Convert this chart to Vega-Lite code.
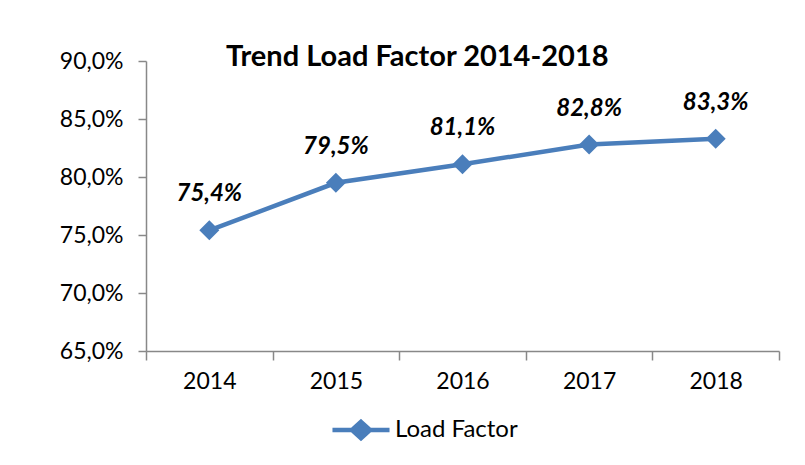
{
  "$schema": "https://vega.github.io/schema/vega-lite/v6.json",
  "width": 633,
  "height": 290,
  "autosize": "none",
  "padding": {"left": 146, "top": 61, "right": 26, "bottom": 114},
  "background": "white",
  "config": {
    "font": "Lato",
    "view": {"stroke": null},
    "locale": {
      "number": {"decimal": ",", "thousands": ".", "grouping": [3], "currency": ["", " €"]}
    }
  },
  "title": {
    "text": "Trend Load Factor 2014-2018",
    "font": "Lato",
    "fontSize": 29,
    "fontWeight": "bold",
    "color": "black",
    "anchor": "start",
    "frame": "group",
    "dx": 80,
    "baseline": "alphabetic",
    "offset": -45
  },
  "data": {
    "values": [
      {"year": "2014", "lf": 0.754, "series": "Load Factor"},
      {"year": "2015", "lf": 0.795, "series": "Load Factor"},
      {"year": "2016", "lf": 0.811, "series": "Load Factor"},
      {"year": "2017", "lf": 0.828, "series": "Load Factor"},
      {"year": "2018", "lf": 0.833, "series": "Load Factor"}
    ]
  },
  "encoding": {
    "x": {
      "field": "year",
      "type": "ordinal",
      "bandPosition": 0.5,
      "scale": {"type": "band", "paddingInner": 0, "paddingOuter": 0},
      "axis": {
        "title": null,
        "labelAngle": 0,
        "labelFont": "Lato",
        "labelFontSize": 23,
        "labelColor": "black",
        "labelPadding": 10,
        "tickBand": "extent",
        "tickSize": 9,
        "tickColor": "#888888",
        "domainColor": "#888888",
        "domainWidth": 1.5,
        "tickWidth": 1.5
      }
    },
    "y": {
      "field": "lf",
      "type": "quantitative",
      "scale": {"domain": [0.65, 0.9], "nice": false, "zero": false},
      "axis": {
        "title": null,
        "values": [0.65, 0.7, 0.75, 0.8, 0.85, 0.9],
        "format": ".1%",
        "grid": false,
        "labelFont": "Lato",
        "labelFontSize": 23,
        "labelColor": "black",
        "labelPadding": 15,
        "tickSize": 8,
        "tickColor": "#888888",
        "domainColor": "#888888",
        "domainWidth": 1.5,
        "tickWidth": 1.5
      }
    }
  },
  "layer": [
    {
      "mark": {"type": "line", "strokeWidth": 4.5},
      "encoding": {
        "color": {
          "field": "series",
          "type": "nominal",
          "scale": {"range": ["#4A7EBB"]},
          "legend": {
            "title": null,
            "orient": "none",
            "legendX": 203,
            "legendY": 357,
            "symbolType": "M-3.17,0H3.17M0,-0.9L1.0,0L0,0.9L-1.0,0Z",
            "symbolSize": 324,
            "symbolStrokeWidth": 4.5,
            "symbolFillColor": "#4A7EBB",
            "symbolStrokeColor": "#4A7EBB",
            "labelFont": "Lato",
            "labelFontSize": 24,
            "labelColor": "black",
            "labelOffset": 22
          }
        }
      }
    },
    {
      "mark": {"type": "point", "shape": "diamond", "filled": true, "size": 400, "opacity": 1, "color": "#4A7EBB"}
    },
    {
      "mark": {
        "type": "text",
        "dy": -29,
        "baseline": "alphabetic",
        "font": "Lato",
        "fontSize": 24,
        "fontWeight": "bold",
        "fontStyle": "italic",
        "color": "black"
      },
      "encoding": {
        "text": {"field": "lf", "type": "quantitative", "format": ".1%"}
      }
    }
  ]
}
